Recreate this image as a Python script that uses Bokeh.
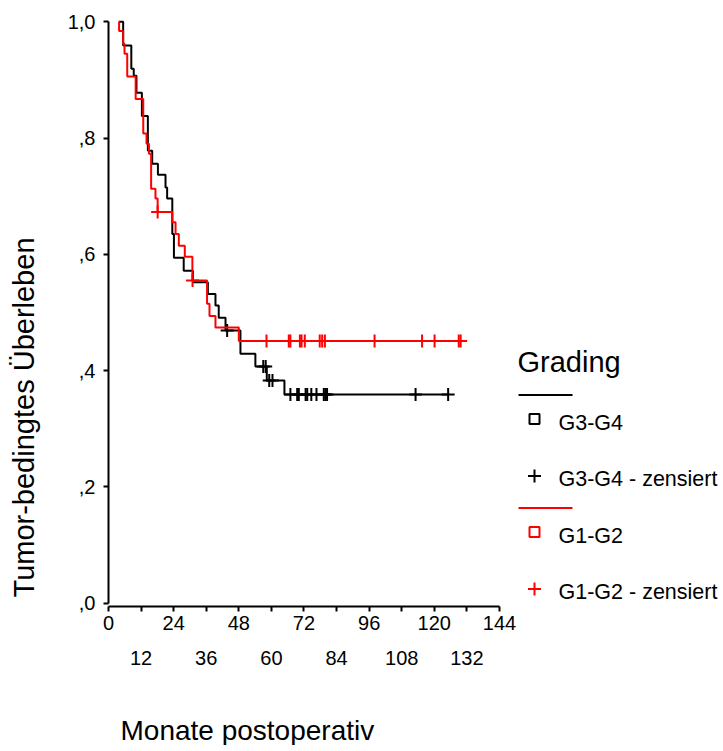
import numpy as np
from bokeh.plotting import figure
from bokeh.models import Range1d, LinearAxis, FixedTicker, Title
from bokeh.embed import file_html
from bokeh.resources import INLINE
from bokeh.core.properties import value

FONT = "Liberation Sans"

# ---------------- data ----------------
# G3-G4 (black)
g34_start = 3.8
g34_event_t = [5.4, 8.4, 9.3, 10.3, 12.3, 14.5, 16.1, 18.2, 21.0, 21.6, 23.5, 24.1,
               27.7, 31.1, 36.6, 39.4, 40.6, 43.1, 48.6, 54.1, 58.3, 64.8]
g34_event_s = [0.959, 0.919, 0.907, 0.878, 0.838, 0.778, 0.756, 0.737, 0.715, 0.696,
               0.635, 0.594, 0.572, 0.552, 0.532, 0.512, 0.491, 0.469, 0.429, 0.407,
               0.383, 0.359]
g34_censor_t = [43.7, 57.0, 57.9, 59.2, 60.4, 67.0, 69.5, 70.1, 72.6, 73.2, 74.7,
                76.6, 79.3, 79.9, 80.5, 113.1, 125.1]

# G1-G2 (red)
g12_start = 3.8
g12_event_t = [3.9, 5.4, 5.9, 6.9, 10.0, 12.8, 14.0, 14.9, 15.7, 17.3, 18.1, 23.5,
               24.7, 25.9, 28.1, 30.9, 36.3, 37.2, 39.4, 48.0]
g12_event_s = [0.984, 0.962, 0.945, 0.906, 0.867, 0.808, 0.790, 0.773, 0.713, 0.696,
               0.673, 0.655, 0.635, 0.615, 0.596, 0.555, 0.515, 0.494, 0.474, 0.451]
g12_censor_t = [18.1, 30.95, 58.2, 66.4, 67.0, 70.5, 71.1, 72.3, 77.8, 78.7, 79.7,
                98.0, 115.5, 120.1, 129.0, 129.7]

x_label_ticks_row1 = [0, 24, 48, 72, 96, 120, 144]
x_label_ticks_row2 = [12, 36, 60, 84, 108, 132]
y_ticks = [0, 0.2, 0.4, 0.6, 0.8, 1]
y_tick_labels = [",0", ",2", ",4", ",6", ",8", "1,0"]

legend_title = "Grading"
group_names = ["G3-G4", "G1-G2"]
group_colors = ["#000000", "#ff0000"]
censor_suffix = " - zensiert"
x_title = "Monate postoperativ"
y_title = "Tumor-bedingtes Überleben"


def km_path(t0, ts, ss, t_end):
    xs, ys, cur = [t0], [1.0], 1.0
    for t, s in zip(ts, ss):
        xs += [t, t]
        ys += [cur, s]
        cur = s
    xs.append(t_end)
    ys.append(cur)
    return xs, ys


def surv_at(ts, ss, tc):
    ts = np.asarray(ts)
    ss = np.asarray(ss)
    idx = np.searchsorted(ts, np.asarray(tc), side="right") - 1
    return np.where(idx >= 0, ss[np.clip(idx, 0, None)], 1.0)


# ---------------- layout constants ----------------
PX_X = 2.715   # px per month
PX_Y = 581.5   # px per unit survival
FRAME_W = 614
FRAME_H = 588
X_MAX = FRAME_W / PX_X
Y_PAD = (FRAME_H / PX_Y - 1.0) / 2

p = figure(frame_width=FRAME_W, frame_height=FRAME_H,
           x_range=Range1d(0, X_MAX), y_range=Range1d(-Y_PAD, 1 + Y_PAD),
           x_axis_type=None, y_axis_type=None,
           output_backend="svg", toolbar_location=None,
           min_border_left=108, min_border_right=0, min_border_top=18,
           min_border_bottom=40)
p.outline_line_color = None
p.background_fill_color = "white"
p.border_fill_color = "white"


def spacer_axis(size, tick_at):
    # blank axis that only reserves room between an axis and a title
    ax = LinearAxis(ticker=FixedTicker(ticks=[tick_at], minor_ticks=[]))
    ax.axis_line_color = None
    ax.major_tick_line_color = "white"
    ax.major_tick_out = size
    ax.major_tick_in = 0
    ax.minor_tick_out = 0
    ax.major_label_standoff = 0
    ax.major_label_overrides = {tick_at: ""}
    ax.major_label_text_font_size = "1px"
    return ax


# y axis
yaxis = LinearAxis(ticker=FixedTicker(ticks=y_ticks, minor_ticks=[]), bounds=(0, 1))
yaxis.major_label_overrides = {t: l for t, l in zip(y_ticks, y_tick_labels)}
yaxis.axis_line_width = 2
yaxis.major_tick_line_width = 2
yaxis.major_tick_out = 5
yaxis.major_tick_in = 0
yaxis.major_label_standoff = 8
yaxis.major_label_text_font = FONT
yaxis.major_label_text_font_size = "20px"
yaxis.major_label_text_color = "black"
p.add_layout(yaxis, "left")
p.add_layout(spacer_axis(25, 0.9), "left")
p.add_layout(Title(text=y_title, align="left", offset=9, vertical_align="bottom",
                   standoff=0, text_font=FONT, text_font_size="29px",
                   text_font_style="normal", text_color="black"), "left")

# x axis row 1
xaxis = LinearAxis(ticker=FixedTicker(ticks=x_label_ticks_row1, minor_ticks=x_label_ticks_row2),
                   bounds=(0, 144))
xaxis.axis_line_width = 2
xaxis.major_tick_line_width = 2
xaxis.minor_tick_line_width = 2
xaxis.major_tick_out = 5
xaxis.major_tick_in = 0
xaxis.minor_tick_out = 5
xaxis.minor_tick_in = 0
xaxis.major_label_standoff = 4
xaxis.major_label_text_font = FONT
xaxis.major_label_text_font_size = "20px"
xaxis.major_label_text_color = "black"
p.add_layout(xaxis, "below")

# x axis row 2 (labels only)
xaxis2 = LinearAxis(ticker=FixedTicker(ticks=x_label_ticks_row2, minor_ticks=[]), bounds=(0, 144))
xaxis2.axis_line_color = None
xaxis2.major_tick_line_color = None
xaxis2.major_tick_out = 0
xaxis2.major_tick_in = 0
xaxis2.major_label_standoff = 18
xaxis2.major_label_text_font = FONT
xaxis2.major_label_text_font_size = "20px"
xaxis2.major_label_text_color = "black"
p.add_layout(xaxis2, "below")
p.add_layout(spacer_axis(45, 200), "below")
p.add_layout(Title(text=x_title, align="left", offset=12, vertical_align="bottom",
                   standoff=0, text_font=FONT, text_font_size="28px",
                   text_font_style="normal", text_color="black"), "below")

# curves
groups = [
    (g34_start, g34_event_t, g34_event_s, g34_censor_t, group_colors[0]),
    (g12_start, g12_event_t, g12_event_s, g12_censor_t, group_colors[1]),
]
for t0, et, es, ct, col in groups:
    xs, ys = km_path(t0, et, es, max(ct))
    p.line(xs, ys, line_color=col, line_width=2)
    p.scatter(ct, surv_at(et, es, ct), marker="cross", size=13, line_color=col, line_width=2)


# legend (SPSS style), positioned in pixels relative to the plot origin
def dx(px):
    return px / PX_X


def dy(px):
    return px / PX_Y


LX = dx(409)            # legend left, px right of the y axis
LINE_Y = [208.2, 95.2]  # px above the x axis of each group's separator line

p.text([LX], [LINE_Y[0] / PX_Y + dy(32.8)], text=[legend_title], text_font=value(FONT),
       text_font_size=value("29px"), text_baseline="alphabetic", text_color="black")

for name, col, ly in zip(group_names, group_colors, LINE_Y):
    base = dy(ly)
    p.segment(x0=[LX + dx(1)], y0=[base], x1=[LX + dx(55)], y1=[base],
              line_color=col, line_width=2)
    p.scatter([LX + dx(17)], [base - dy(24)], marker="square", size=10,
              fill_color=None, line_color=col, line_width=2)
    p.text([LX + dx(41)], [base - dy(28)], text=[name], text_font=value(FONT),
           text_font_size=value("21.5px"), text_baseline="alphabetic", text_color="black")
    p.scatter([LX + dx(17)], [base - dy(81)], marker="cross", size=13,
              line_color=col, line_width=2)
    p.text([LX + dx(41)], [base - dy(83.7)], text=[name + censor_suffix], text_font=value(FONT),
           text_font_size=value("21.5px"), text_baseline="alphabetic", text_color="black")

open("out.html", "w").write(file_html(p, INLINE))
